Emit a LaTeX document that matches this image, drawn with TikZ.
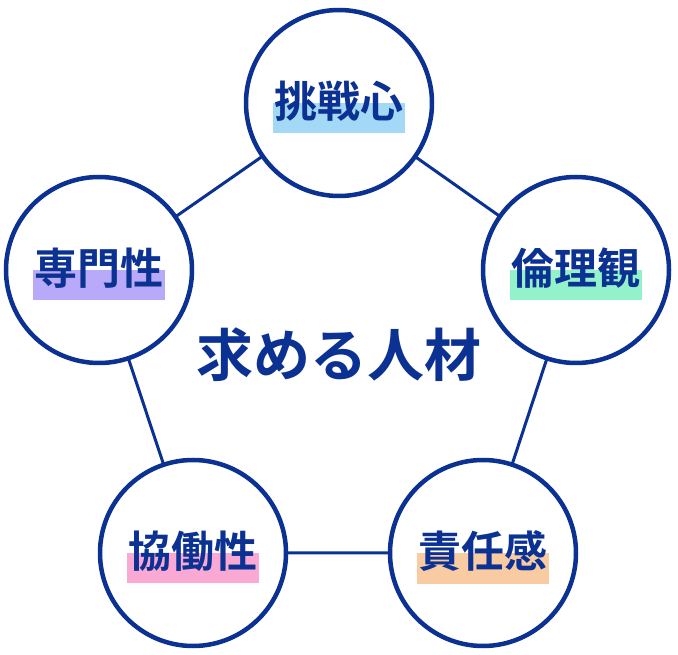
\documentclass[tikz,border=0pt]{standalone}
\usepackage{fontspec}
\newfontfamily\jpfont{Noto Sans CJK JP Bold}
\usepackage{tikz}
\definecolor{navy}{HTML}{0B3192}
\definecolor{hlblue}{HTML}{A3D9F6}
\definecolor{hlmint}{HTML}{93F2C9}
\definecolor{hlpeach}{HTML}{F9CBA3}
\definecolor{hlpink}{HTML}{F9A9D3}
\definecolor{hllav}{HTML}{B9A9F9}
\tikzset{
    trait/.style={circle, draw=navy, line width=4.5pt, fill=white, minimum size=186pt, inner sep=0pt},
    traittext/.style={text=navy, font=\jpfont\fontsize{43}{43}\selectfont, inner sep=0pt},
    link/.style={draw=navy, line width=3pt}
}
\newcommand{\hlbar}[2]{%
    \fill[#2] ([xshift=-1pt,yshift=-12pt]#1.south west) rectangle ([xshift=1pt,yshift=-2pt]#1.south east |- #1.center);
}
\begin{document}
\begin{tikzpicture}[x=1pt,y=1pt]
    \useasboundingbox (0,0) rectangle (678,654);
    % Circle positions
    \coordinate (ctop) at (339,551);
    \coordinate (cright) at (576,384);
    \coordinate (cbr) at (483,101);
    \coordinate (cbl) at (193,101);
    \coordinate (cleft) at (99,384);
    % Pentagon edges
    \draw[link] (ctop) -- (cright) -- (cbr) -- (cbl) -- (cleft) -- cycle;
    % Circles
    \foreach \c in {ctop,cright,cbr,cbl,cleft} {
        \node[trait] at (\c) {};
    }
    % Labels with highlight bars
    \node[traittext, opacity=0] (ttop) at ([yshift=2pt]ctop) {挑戦心};
    \hlbar{ttop}{hlblue}
    \node[traittext] at (ttop) {挑戦心};
    \node[traittext, opacity=0] (tright) at ([yshift=2pt]cright) {倫理観};
    \hlbar{tright}{hlmint}
    \node[traittext] at (tright) {倫理観};
    \node[traittext, opacity=0] (tbr) at ([yshift=2pt]cbr) {責任感};
    \hlbar{tbr}{hlpeach}
    \node[traittext] at (tbr) {責任感};
    \node[traittext, opacity=0] (tbl) at ([yshift=2pt]cbl) {協働性};
    \hlbar{tbl}{hlpink}
    \node[traittext] at (tbl) {協働性};
    \node[traittext, opacity=0] (tleft) at ([yshift=2pt]cleft) {専門性};
    \hlbar{tleft}{hllav}
    \node[traittext] at (tleft) {専門性};
    % Center title
    \node[text=navy, font=\jpfont\fontsize{57}{57}\selectfont] (title) at (339,299) {求める人材};
\end{tikzpicture}
\end{document}
